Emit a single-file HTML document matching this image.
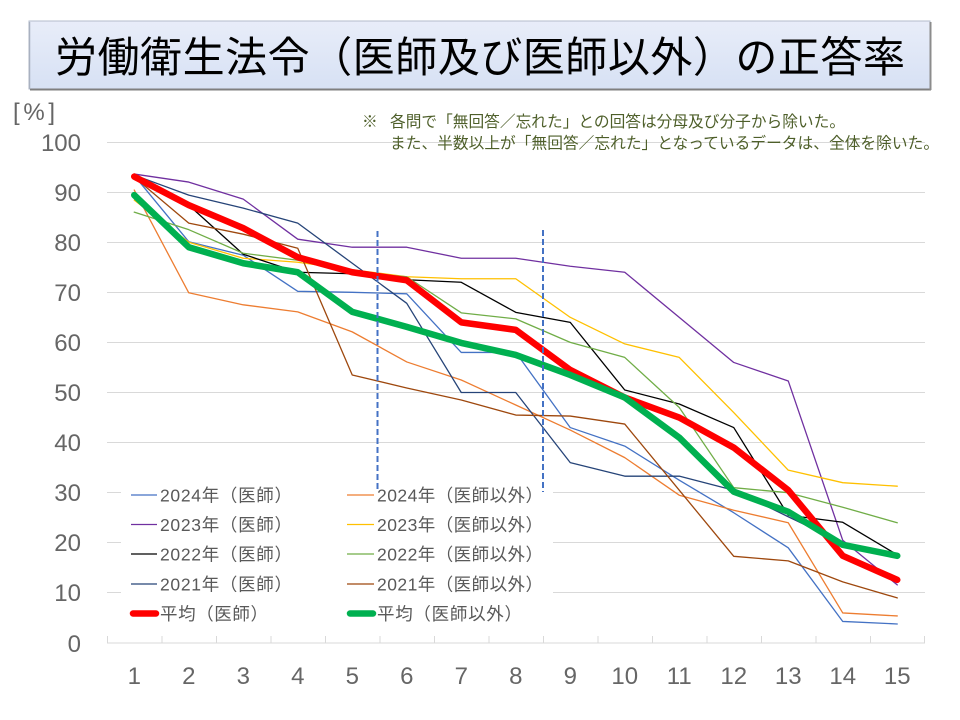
<!DOCTYPE html>
<html>
<head>
<meta charset="utf-8">
<style>
  html,body{margin:0;padding:0;background:#fff;}
  svg{display:block;}
  .jp{font-family:"Liberation Sans","Noto Sans CJK JP",sans-serif;}
  .ax{font-family:"Liberation Sans",sans-serif;font-size:24px;fill:#666;}
  .lg{font-family:"Liberation Sans","Noto Sans CJK JP",sans-serif;font-size:17.5px;fill:#595959;}
</style>
</head>
<body>
<svg width="960" height="720" viewBox="0 0 960 720" xmlns="http://www.w3.org/2000/svg">
  <defs>
    <linearGradient id="tg" x1="0" y1="0" x2="0" y2="1">
      <stop offset="0" stop-color="#e8edf9"/>
      <stop offset="1" stop-color="#d7e1f4"/>
    </linearGradient>
  </defs>
  <rect x="0" y="0" width="960" height="720" fill="#fff"/>

  <!-- Title box -->
  <rect x="29" y="21" width="901" height="68" fill="url(#tg)" stroke="#b3bccc" stroke-width="1"/>
  <line x1="30" y1="89.5" x2="931" y2="89.5" stroke="#7f7f7f" stroke-width="2"/>
  <line x1="930.5" y1="22" x2="930.5" y2="90" stroke="#8c8c8c" stroke-width="2"/>
  <line x1="29.5" y1="22" x2="29.5" y2="89" stroke="#a9b1c0" stroke-width="1.5"/>
  <text x="55" y="72" class="jp" font-size="42" fill="#000" textLength="850" lengthAdjust="spacing">労働衛生法令（医師及び医師以外）の正答率</text>

  <!-- [%] -->
  <text x="13" y="120" class="ax" textLength="42" lengthAdjust="spacing">[%]</text>

  <!-- gridlines -->
  <g stroke="#d9d9d9" stroke-width="1">
    <line x1="107" y1="142.5" x2="925" y2="142.5"/>
    <line x1="107" y1="192.5" x2="925" y2="192.5"/>
    <line x1="107" y1="242.5" x2="925" y2="242.5"/>
    <line x1="107" y1="292.5" x2="925" y2="292.5"/>
    <line x1="107" y1="342.5" x2="925" y2="342.5"/>
    <line x1="107" y1="392.5" x2="925" y2="392.5"/>
    <line x1="107" y1="442.5" x2="925" y2="442.5"/>
    <line x1="107" y1="492.5" x2="925" y2="492.5"/>
    <line x1="107" y1="542.5" x2="925" y2="542.5"/>
    <line x1="107" y1="592.5" x2="925" y2="592.5"/>
    <line x1="107" y1="643" x2="925" y2="643"/>
  </g>
  <!-- x ticks -->
  <g stroke="#d9d9d9" stroke-width="1">
    <line x1="107.5" y1="636" x2="107.5" y2="643"/>
    <line x1="162" y1="636" x2="162" y2="643"/>
    <line x1="216.5" y1="636" x2="216.5" y2="643"/>
    <line x1="271" y1="636" x2="271" y2="643"/>
    <line x1="325.5" y1="636" x2="325.5" y2="643"/>
    <line x1="380" y1="636" x2="380" y2="643"/>
    <line x1="434.5" y1="636" x2="434.5" y2="643"/>
    <line x1="489" y1="636" x2="489" y2="643"/>
    <line x1="543.5" y1="636" x2="543.5" y2="643"/>
    <line x1="598" y1="636" x2="598" y2="643"/>
    <line x1="652.5" y1="636" x2="652.5" y2="643"/>
    <line x1="707" y1="636" x2="707" y2="643"/>
    <line x1="761.5" y1="636" x2="761.5" y2="643"/>
    <line x1="816" y1="636" x2="816" y2="643"/>
    <line x1="870.5" y1="636" x2="870.5" y2="643"/>
    <line x1="924.5" y1="636" x2="924.5" y2="643"/>
  </g>

  <!-- note text -->
  <g class="jp" font-size="15.7" fill="#4e5f2a">
    <text x="362" y="127">※</text>
    <text x="390" y="127" textLength="455" lengthAdjust="spacing">各問で「無回答／忘れた」との回答は分母及び分子から除いた。</text>
    <text x="390" y="148.5" textLength="549" lengthAdjust="spacing">また、半数以上が「無回答／忘れた」となっているデータは、全体を除いた。</text>
  </g>

  <!-- y axis labels -->
  <g class="ax" text-anchor="end">
    <text x="81" y="151">100</text>
    <text x="81" y="201">90</text>
    <text x="81" y="251">80</text>
    <text x="81" y="301">70</text>
    <text x="81" y="351">60</text>
    <text x="81" y="401">50</text>
    <text x="81" y="451">40</text>
    <text x="81" y="501">30</text>
    <text x="81" y="551">20</text>
    <text x="81" y="601">10</text>
    <text x="81" y="652">0</text>
  </g>
  <!-- x axis labels -->
  <g class="ax" text-anchor="middle">
    <text x="134.25" y="684">1</text>
    <text x="188.75" y="684">2</text>
    <text x="243.25" y="684">3</text>
    <text x="297.75" y="684">4</text>
    <text x="352.25" y="684">5</text>
    <text x="406.75" y="684">6</text>
    <text x="461.25" y="684">7</text>
    <text x="515.75" y="684">8</text>
    <text x="570.25" y="684">9</text>
    <text x="624.75" y="684">10</text>
    <text x="679.25" y="684">11</text>
    <text x="733.75" y="684">12</text>
    <text x="788.25" y="684">13</text>
    <text x="842.75" y="684">14</text>
    <text x="897.25" y="684">15</text>
  </g>

  <!-- legend background -->
  <rect x="121" y="481" width="432" height="147" fill="#fff"/>

  <!-- data series -->
  <g transform="translate(134.25,643) scale(54.5,-5.01)" fill="none" stroke-linejoin="round" stroke-linecap="round">
    <polyline vector-effect="non-scaling-stroke" stroke="#4472C4" stroke-width="1.3" points="0,93.3 1,80.1 2,77.4 3,70.2 4,70 5,69.7 6,58 7,58 8,43 9,39.3 10,32.5 11,26 12,19 13,4.3 14,3.8"/>
    <polyline vector-effect="non-scaling-stroke" stroke="#ED7D31" stroke-width="1.3" points="0,90.4 1,69.9 2,67.5 3,66.1 4,62.1 5,56.1 6,52.5 7,47.5 8,42.5 9,37 10,29.5 11,26.5 12,24 13,6 14,5.4"/>
    <polyline vector-effect="non-scaling-stroke" stroke="#7030A0" stroke-width="1.3" points="0,93.6 1,92 2,88.6 3,80.6 4,79 5,79 6,76.8 7,76.8 8,75.2 9,74 10,65 11,56 12,52.3 13,20.5 14,11.6"/>
    <polyline vector-effect="non-scaling-stroke" stroke="#FFC000" stroke-width="1.3" points="0,88.4 1,80 2,76.8 3,76 4,74.5 5,73.1 6,72.7 7,72.7 8,65 9,59.7 10,57 11,46 12,34.5 13,32 14,31.3"/>
    <polyline vector-effect="non-scaling-stroke" stroke="#000000" stroke-width="1.3" points="0,93 1,87.4 2,77.6 3,74 4,73.7 5,72.5 6,72 7,66 8,64 9,50.5 10,47.7 11,43 12,25.5 13,24.1 14,17.6"/>
    <polyline vector-effect="non-scaling-stroke" stroke="#70AD47" stroke-width="1.3" points="0,86 1,82.5 2,77.8 3,76.4 4,74 5,73.1 6,65.9 7,64.7 8,60 9,57 10,47 11,31 12,30 13,27.1 14,24"/>
    <polyline vector-effect="non-scaling-stroke" stroke="#264478" stroke-width="1.3" points="0,93.4 1,89.4 2,86.8 3,83.8 4,75.8 5,67.8 6,50 7,50 8,36 9,33.3 10,33.3 11,30.5 12,25.2 13,20 14,17.2"/>
    <polyline vector-effect="non-scaling-stroke" stroke="#9E480E" stroke-width="1.3" points="0,93 1,83.8 2,81.6 3,78.8 4,53.5 5,50.9 6,48.5 7,45.5 8,45.3 9,43.7 10,30.5 11,17.3 12,16.4 13,12.2 14,9"/>
    <polyline vector-effect="non-scaling-stroke" stroke="#FF0000" stroke-width="6.5" points="0,93.1 1,87.4 2,82.8 3,77 4,74 5,72.4 6,64 7,62.5 8,54.5 9,49 10,45 11,39 12,30.5 13,17.4 14,12.6"/>
    <polyline vector-effect="non-scaling-stroke" stroke="#00B050" stroke-width="6.5" points="0,89.4 1,79 2,75.8 3,74 4,66.1 5,63.1 6,59.9 7,57.5 8,53.5 9,49 10,41 11,30.2 12,26.2 13,19.6 14,17.4"/>
  </g>

  <!-- legend -->
  <g stroke-width="1.3">
    <line x1="131" y1="495" x2="157" y2="495" stroke="#4472C4"/>
    <line x1="347" y1="495" x2="374" y2="495" stroke="#ED7D31"/>
    <line x1="131" y1="524.5" x2="157" y2="524.5" stroke="#7030A0"/>
    <line x1="347" y1="524.5" x2="374" y2="524.5" stroke="#FFC000"/>
    <line x1="131" y1="554" x2="157" y2="554" stroke="#000000"/>
    <line x1="347" y1="554" x2="374" y2="554" stroke="#70AD47"/>
    <line x1="131" y1="584" x2="157" y2="584" stroke="#264478"/>
    <line x1="347" y1="584" x2="374" y2="584" stroke="#9E480E"/>
  </g>
  <line x1="133" y1="613.5" x2="156" y2="613.5" stroke="#FF0000" stroke-width="6.5" stroke-linecap="round"/>
  <line x1="350" y1="613.5" x2="373" y2="613.5" stroke="#00B050" stroke-width="6.5" stroke-linecap="round"/>
  <g class="lg">
    <text x="160" y="501.5" textLength="132" lengthAdjust="spacing">2024年（医師）</text>
    <text x="377" y="501.5" textLength="166" lengthAdjust="spacing">2024年（医師以外）</text>
    <text x="160" y="531" textLength="132" lengthAdjust="spacing">2023年（医師）</text>
    <text x="377" y="531" textLength="166" lengthAdjust="spacing">2023年（医師以外）</text>
    <text x="160" y="560.5" textLength="132" lengthAdjust="spacing">2022年（医師）</text>
    <text x="377" y="560.5" textLength="166" lengthAdjust="spacing">2022年（医師以外）</text>
    <text x="160" y="590.5" textLength="132" lengthAdjust="spacing">2021年（医師）</text>
    <text x="377" y="590.5" textLength="166" lengthAdjust="spacing">2021年（医師以外）</text>
    <text x="160" y="620" textLength="108" lengthAdjust="spacing">平均（医師）</text>
    <text x="377" y="620" textLength="145" lengthAdjust="spacing">平均（医師以外）</text>
  </g>

  <!-- dashed vertical separators -->
  <g stroke="#4472C4" stroke-width="2" stroke-dasharray="6,3">
    <line x1="377.5" y1="231" x2="377.5" y2="492"/>
    <line x1="543" y1="230" x2="543" y2="492"/>
  </g>
</svg>
</body>
</html>
